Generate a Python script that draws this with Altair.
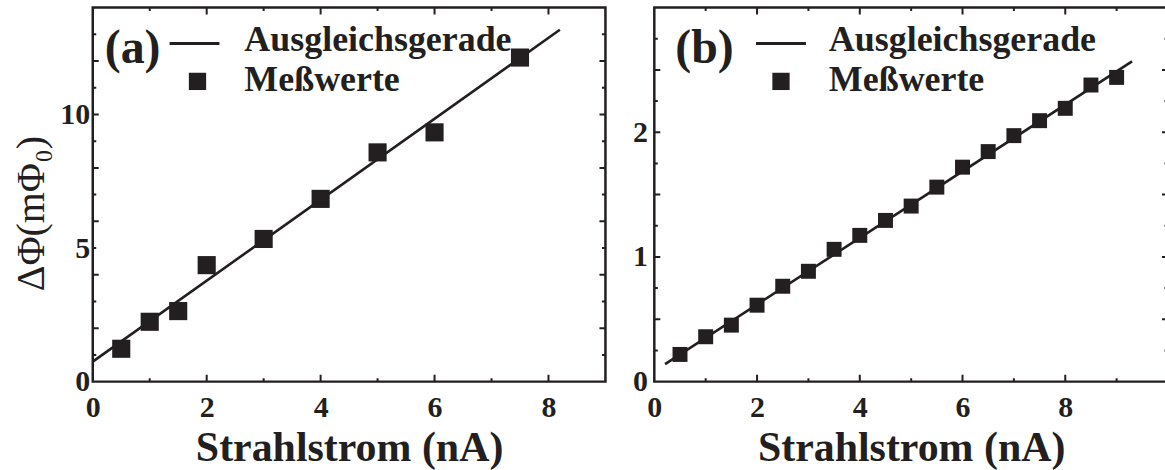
import altair as alt
import pandas as pd

# ---------------- data ----------------
# panel (a)
a_current = [0.5, 1.0, 1.5, 2.0, 3.0, 4.0, 5.0, 6.0, 7.5]
a_flux = [1.23, 2.24, 2.64, 4.36, 5.34, 6.84, 8.58, 9.33, 12.13]
a_fit_current = [0.0, 8.2]
a_fit_flux = [0.75, 13.17]

# panel (b)
b_current = [0.5, 1.0, 1.5, 2.0, 2.5, 3.0, 3.5, 4.0, 4.5, 5.0,
             5.5, 6.0, 6.5, 7.0, 7.5, 8.0, 8.5, 9.0]
b_flux = [0.218, 0.36, 0.453, 0.613, 0.765, 0.885, 1.061, 1.173, 1.293, 1.408,
          1.56, 1.72, 1.845, 1.973, 2.093, 2.192, 2.379, 2.44]
b_fit_current = [0.21, 9.3]
b_fit_flux = [0.141, 2.568]

# axes
a_x_domain = [0, 9]
a_y_domain = [0, 14]
b_x_domain = [0, 10]
b_y_domain = [0, 3]
a_x_labels = [0, 2, 4, 6, 8]
a_y_labels = [0, 5, 10]
b_x_labels = [0, 2, 4, 6, 8]
b_y_labels = [0, 1, 2]
a_x_major = [2, 4, 6, 8]
a_x_minor = [1, 3, 5, 7]
a_y_major = [2, 4, 6, 8, 10, 12]
a_y_minor = [1, 3, 5, 7, 9, 11, 13]
b_x_major = [2, 4, 6, 8]
b_x_minor = [1, 3, 5, 7, 9]
b_y_major = [0.5, 1.0, 1.5, 2.0, 2.5]
b_y_minor = [0.25, 0.75, 1.25, 1.75, 2.25, 2.75]

# texts
panel_labels = ["(a)", "(b)"]
legend_labels = ["Ausgleichsgerade", "Meßwerte"]
x_title = "Strahlstrom (nA)"
a_y_title = "ΔΦ(mΦ₀)"

INK = "#231f20"
FONT = "Liberation Serif"
H = 375


def panel(cur, flux, fit_c, fit_f, xdom, ydom, xlab, ylab, xmaj, xmin, ymaj, ymin,
          width, ytitle, ylabpad, sq_size, label, lg):
    xs = alt.Scale(domain=xdom, nice=False, zero=False)
    ys = alt.Scale(domain=ydom, nice=False, zero=False)
    xaxis = alt.Axis(values=xlab, title=x_title, ticks=False, domain=False, grid=False,
                     labelFlush=False, labelPadding=11, format="d",
                     titleY=79, titleBaseline="alphabetic")
    if ytitle:
        yaxis = alt.Axis(values=ylab, title=ytitle, ticks=False, domain=False, grid=False,
                         labelPadding=ylabpad, format="d",
                         titleFontWeight="normal", titleFontSize=40, titleAngle=270,
                         titleBaseline="middle", titleAlign="center",
                         titleX=-61, titleY=206)
    else:
        yaxis = alt.Axis(values=ylab, title="", ticks=False, domain=False, grid=False,
                         labelPadding=ylabpad, format="d")

    X = lambda: alt.X("x:Q", scale=xs, axis=xaxis)
    Y = lambda: alt.Y("y:Q", scale=ys, axis=yaxis)

    fit = alt.Chart(pd.DataFrame({"x": fit_c, "y": fit_f})).mark_line(
        color=INK, strokeWidth=2.6).encode(x=X(), y=Y())
    pts = alt.Chart(pd.DataFrame({"x": cur, "y": flux})).mark_point(
        shape="square", filled=True, color=INK, opacity=1, size=sq_size).encode(x=X(), y=Y())

    layers = [fit, pts]
    # inward frame ticks (clipped half of a centred tick)
    for vals, ln in ((xmaj, 14), (xmin, 7)):
        for edge in (ydom[0], ydom[1]):
            layers.append(alt.Chart(pd.DataFrame({"x": vals})).mark_tick(
                orient="vertical", size=ln, thickness=2, color=INK, opacity=1, clip=True
            ).encode(x=X(), y=alt.Y(datum=edge, scale=ys)))
    for vals, ln in ((ymaj, 12), (ymin, 7)):
        for edge in (xdom[0], xdom[1]):
            layers.append(alt.Chart(pd.DataFrame({"y": vals})).mark_tick(
                orient="horizontal", size=ln, thickness=2, color=INK, opacity=1, clip=True
            ).encode(y=Y(), x=alt.X(datum=edge, scale=xs)))

    # legend inside the frame
    one = pd.DataFrame({"t": [label]})
    layers.append(alt.Chart(one).mark_text(
        font=FONT, fontWeight="bold", fontSize=48, color=INK, align="left", baseline="alphabetic"
    ).encode(text="t:N", x=alt.value(lg["lab_x"]), y=alt.value(56)))
    layers.append(alt.Chart(one).mark_rule(color=INK, strokeWidth=3).encode(
        x=alt.value(lg["line_x"]), x2=alt.value(lg["line_x"] + 50), y=alt.value(36)))
    layers.append(alt.Chart(one).mark_point(
        shape="square", filled=True, color=INK, opacity=1, size=300).encode(
        x=alt.value(lg["sq_x"]), y=alt.value(74)))
    layers.append(alt.Chart(pd.DataFrame({"t": legend_labels, "yy": [44, 84]})).mark_text(
        font=FONT, fontWeight="bold", fontSize=36, color=INK, align="left", baseline="alphabetic"
    ).encode(text="t:N", x=alt.value(lg["txt_x"]), y=alt.Y("yy:Q", scale=None)))

    return alt.layer(*layers).properties(width=width, height=H)


pa = panel(a_current, a_flux, a_fit_current, a_fit_flux, a_x_domain, a_y_domain,
           a_x_labels, a_y_labels, a_x_major, a_x_minor, a_y_major, a_y_minor,
           514, a_y_title, 3, 330, panel_labels[0],
           {"lab_x": 12, "line_x": 77, "sq_x": 105, "txt_x": 152})
pb = panel(b_current, b_flux, b_fit_current, b_fit_flux, b_x_domain, b_y_domain,
           b_x_labels, b_y_labels, b_x_major, b_x_minor, b_y_major, b_y_minor,
           515, None, 7, 225, panel_labels[1],
           {"lab_x": 21, "line_x": 102, "sq_x": 127, "txt_x": 175})

# negative right padding: the reference crops panel (b) just before its right frame
chart = alt.hconcat(pa, pb, spacing=23).properties(
    padding={"left": 10, "top": 5, "right": -5, "bottom": 0},
    background="white",
).configure_view(
    stroke=INK, strokeWidth=2.5
).configure_axis(
    labelFont=FONT, labelFontWeight="bold", labelFontSize=30, labelColor=INK,
    titleFont=FONT, titleFontWeight="bold", titleFontSize=42, titleColor=INK,
)

chart.save("out.html", embed_options={"renderer": "svg", "actions": False})
